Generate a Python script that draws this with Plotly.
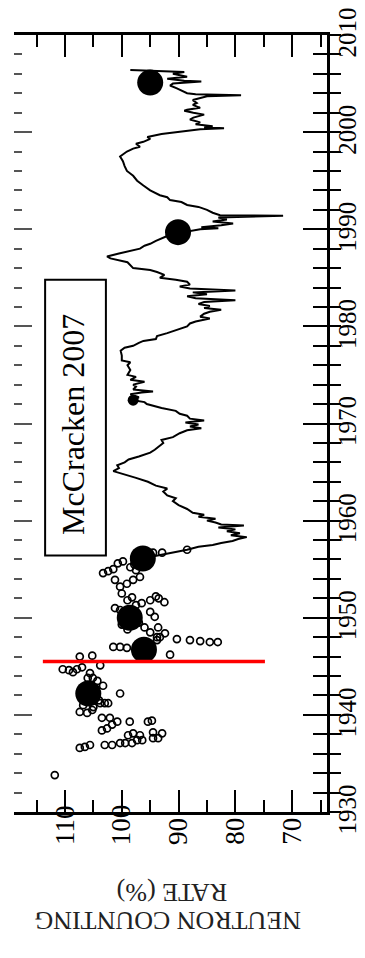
import plotly.graph_objects as go

# ---------------- data ----------------
line_year = [1956.2, 1956.5, 1956.8, 1957.0, 1957.3, 1957.5, 1957.7, 1957.9, 1958.1, 1958.3,
             1958.5, 1958.7, 1958.9, 1959.1, 1959.3, 1959.5, 1959.6, 1959.8, 1960.0, 1960.2,
             1960.4, 1960.6, 1960.8, 1961.2, 1961.6, 1962.0, 1962.3, 1962.6, 1963.0, 1963.3,
             1963.6, 1964.0, 1964.4, 1964.8, 1965.1, 1965.4, 1965.7, 1966.0, 1966.3, 1966.6,
             1967.0, 1967.3, 1967.6, 1968.0, 1968.3, 1968.6, 1969.0, 1969.3, 1969.5, 1969.7,
             1969.9, 1970.1, 1970.3, 1970.5, 1970.8, 1971.0, 1971.3, 1971.6, 1972.0, 1972.2,
             1972.4, 1972.7, 1973.0, 1973.2, 1973.3, 1973.5, 1973.8, 1974.0, 1974.3, 1974.5,
             1974.8, 1975.0, 1975.5, 1976.0, 1976.3, 1976.5, 1977.0, 1977.5, 1977.8, 1978.0,
             1978.3, 1978.5, 1978.7, 1979.0, 1979.3, 1979.5, 1979.8, 1980.0, 1980.3, 1980.5,
             1980.8, 1981.0, 1981.3, 1981.5, 1981.7, 1981.9, 1982.1, 1982.3, 1982.5, 1982.7,
             1982.9, 1983.1, 1983.3, 1983.5, 1983.7, 1983.9, 1984.1, 1984.3, 1984.6, 1984.8,
             1985.0, 1985.3, 1985.6, 1985.8, 1986.0, 1986.3, 1986.6, 1987.0, 1987.2, 1987.5,
             1987.8, 1988.0, 1988.3, 1988.5, 1988.8, 1989.0, 1989.3, 1989.5, 1989.8, 1990.0,
             1990.1, 1990.2, 1990.4, 1990.6, 1990.8, 1991.0, 1991.2, 1991.4, 1991.45, 1991.7,
             1992.0, 1992.3, 1992.5, 1992.8, 1993.0, 1993.3, 1993.5, 1994.0, 1994.5, 1995.0,
             1995.5, 1996.0, 1996.5, 1997.0, 1997.5, 1998.0, 1998.3, 1998.5, 1998.8, 1999.0,
             1999.3, 1999.5, 1999.8, 2000.0, 2000.2, 2000.3, 2000.4, 2000.5, 2000.6, 2000.8,
             2001.0, 2001.3, 2001.5, 2001.8, 2002.0, 2002.2, 2002.3, 2002.5, 2002.8, 2003.0,
             2003.3, 2003.5, 2003.7, 2003.8, 2003.9, 2004.0, 2004.3, 2004.5, 2004.8, 2005.0,
             2005.2, 2005.3, 2005.5, 2005.7, 2006.0, 2006.2, 2006.4]
line_rate = [95.5, 93.0, 90.0, 88.5, 86.5, 84.0, 82.5, 80.5, 79.5, 78.0,
             80.8, 79.2, 81.5, 80.0, 83.0, 78.5, 82.5, 83.5, 85.0, 83.5,
             86.5, 85.5, 87.5, 88.5, 90.0, 91.0, 90.5, 92.0, 92.7, 92.0,
             94.0, 95.4, 97.5, 100.0, 101.5, 100.5, 100.8, 99.5, 98.8, 97.0,
             95.0, 94.2, 93.5, 92.7, 93.0, 91.0, 89.8, 88.5, 86.0, 88.0,
             86.5, 88.8, 85.5, 88.0, 88.5, 89.8, 90.5, 93.0, 95.6, 96.0,
             98.0, 97.0, 98.5, 96.5, 94.5, 98.0, 97.5, 98.0, 96.0, 98.5,
             97.5, 99.0, 98.5, 99.0, 98.5, 100.0, 100.0, 100.2, 99.5, 98.0,
             97.0, 96.2, 94.0, 93.8, 92.0, 91.0, 89.5, 88.5, 88.0, 87.0,
             84.5, 86.2, 85.5, 84.5, 82.5, 85.5, 84.5, 86.5, 85.5, 80.0,
             87.0, 88.5, 85.0, 87.5, 80.0, 88.0, 89.8, 88.0, 88.5, 90.5,
             93.3, 92.5, 93.8, 95.0, 98.0, 98.5, 99.0, 102.0, 102.6, 100.5,
             98.5, 96.8, 96.0, 95.0, 94.0, 93.3, 92.0, 91.0, 88.0, 86.2,
             83.0, 86.0, 82.5, 80.4, 84.0, 81.5, 83.0, 71.6, 82.7, 84.0,
             85.0, 86.5, 88.5, 89.5, 91.5, 92.0, 93.3, 95.0, 96.2, 97.3,
             98.0, 99.1, 99.5, 99.8, 100.3, 99.1, 98.0, 96.8, 97.5, 96.2,
             95.0, 95.5, 93.0, 89.8, 87.5, 86.2, 82.0, 85.5, 84.0, 87.0,
             86.2, 88.0, 87.4, 85.5, 87.4, 89.0, 88.5, 86.2, 87.5, 86.8,
             87.5, 86.2, 85.0, 79.0, 87.0, 88.5, 89.5, 90.3, 91.5, 91.0,
             86.0, 89.0, 92.0, 88.5, 91.0, 89.0, 98.5]

circle_year = [1933.8, 1936.6, 1936.7, 1936.9, 1936.9, 1936.9, 1937.1, 1937.1, 1937.1,
               1937.4, 1937.4, 1937.6, 1937.6, 1938.2, 1938.1, 1937.9, 1938.1, 1937.9,
               1939.3, 1939.3, 1939.4, 1938.4, 1938.6, 1939.0, 1939.3, 1939.7, 1939.7,
               1940.3, 1940.2, 1940.5, 1941.2, 1941.2, 1941.2, 1942.2,
               1943.5, 1943.0, 1941.0, 1940.8, 1941.5,
               1944.7, 1944.6, 1944.4, 1944.7, 1944.9, 1943.8, 1943.8, 1944.3, 1945.1,
               1946.0, 1946.1,
               1947.0, 1947.0, 1946.9, 1947.7, 1948.0, 1948.4,
               1947.8, 1947.7, 1947.6, 1947.5, 1947.5, 1946.2, 1948.5, 1949.0,
               1951.0, 1950.8, 1954.6, 1954.8, 1955.0, 1955.6, 1955.8,
               1953.5, 1953.9, 1954.2, 1953.9, 1953.2, 1952.5, 1951.8, 1952.1,
               1950.6, 1950.1, 1949.0, 1948.0, 1956.7, 1956.7,
               1951.5, 1951.8, 1952.2, 1951.6, 1952.0, 1951.3,
               1949.5, 1950.5, 1948.8, 1949.3, 1955.2, 1954.9, 1955.5, 1957.0]
circle_rate = [111.8, 107.4, 106.5, 105.6, 103.0, 101.7, 100.3, 99.4, 98.2,
               97.3, 96.4, 94.5, 93.6, 94.5, 92.9, 98.9, 98.0, 96.8,
               98.6, 95.4, 94.7, 103.5, 102.6, 101.7, 100.8, 102.1, 103.5,
               107.4, 106.1, 105.2, 103.8, 103.0, 102.4, 100.3,
               104.3, 103.3, 106.8, 105.0, 104.0,
               110.4, 109.3, 108.6, 107.9, 107.0, 106.0, 105.1, 105.6, 103.8,
               107.4, 105.2,
               101.5, 100.3, 99.1, 93.8, 93.3, 92.4,
               90.3, 88.0, 86.2, 84.5, 83.1, 91.5, 95.0, 96.0,
               101.2, 100.3, 103.3, 102.4, 101.5, 100.7, 99.8,
               99.1, 98.0, 96.8, 101.2, 100.3, 100.0, 99.0, 98.2,
               95.0, 94.2, 93.6, 93.8, 94.5, 92.9,
               96.5, 95.0, 94.0, 92.5, 93.5, 97.5,
               97.0, 97.5, 99.0, 100.0, 98.5, 97.5, 97.8, 88.5]

dot_year = [2005.1, 1989.7, 1956.1, 1950.0, 1946.7, 1942.2]
dot_rate = [95.0, 90.1, 96.3, 98.6, 96.1, 105.9]

small_dot_year = [1972.4]
small_dot_rate = [98.0]

red_year = [1945.5, 1945.5]
red_rate = [113.9, 74.8]

rate_ticks = [110, 100, 90, 80, 70]
year_ticks = [1930, 1940, 1950, 1960, 1970, 1980, 1990, 2000, 2010]

label_text = "McCracken 2007"
title_line1 = "NEUTRON COUNTING"
title_line2 = "RATE (%)"

box_rate = [113.5, 102.8]
box_year = [1956.4, 1984.8]
label_pos = (108.5, 1969.9)

X_RANGE = [118.98, 63.87]
Y_RANGE = [1930, 2010]
SERIF = "Liberation Serif, Times New Roman, serif"

fig = go.Figure()

fig.add_trace(go.Scatter(x=line_rate, y=line_year, mode="lines",
                         line=dict(color="black", width=2), showlegend=False,
                         hoverinfo="skip"))
fig.add_trace(go.Scatter(x=circle_rate, y=circle_year, mode="markers",
                         marker=dict(symbol="circle-open", size=7, color="black",
                                     line=dict(width=1.7, color="black")),
                         showlegend=False, hoverinfo="skip"))
fig.add_trace(go.Scatter(x=dot_rate, y=dot_year, mode="markers",
                         marker=dict(symbol="circle", size=26, color="black"),
                         showlegend=False, hoverinfo="skip"))
fig.add_trace(go.Scatter(x=small_dot_rate, y=small_dot_year, mode="markers",
                         marker=dict(symbol="circle", size=11, color="black"),
                         showlegend=False, hoverinfo="skip"))
fig.add_trace(go.Scatter(x=red_rate, y=red_year, mode="lines",
                         line=dict(color="#ff0000", width=3.5), showlegend=False,
                         hoverinfo="skip"))
# empty traces to activate the overlay axes
fig.add_trace(go.Scatter(x=[], y=[], yaxis="y2", showlegend=False))
fig.add_trace(go.Scatter(x=[], y=[], yaxis="y3", showlegend=False))

fig.add_shape(type="rect", xref="x", yref="y",
              x0=box_rate[0], x1=box_rate[1], y0=box_year[0], y1=box_year[1],
              line=dict(color="black", width=2), fillcolor="rgba(0,0,0,0)")
fig.add_annotation(x=label_pos[0], y=label_pos[1], xref="x", yref="y",
                   xanchor="center", yanchor="middle",
                   text=label_text, textangle=-90, showarrow=False,
                   font=dict(family=SERIF, size=32, color="black"))

# rate tick labels, rotated like the rest of the (turned) figure
for v in rate_ticks:
    fig.add_annotation(x=v, y=-0.045, xref="x", yref="paper", text=str(v),
                       textangle=-90, showarrow=False,
                       font=dict(family=SERIF, size=27, color="black"))

# year tick labels on the right
for v in year_ticks:
    fig.add_annotation(x=1.115, y=v, xref="paper", yref="y", text=str(v),
                       textangle=-90, showarrow=False, yshift=3,
                       font=dict(family=SERIF, size=25, color="black"))

fig.add_annotation(x=0.492, y=-0.161, xref="paper", yref="paper", text=title_line1,
                   textangle=180, showarrow=False,
                   font=dict(family=SERIF, size=26, color="#222"))
fig.add_annotation(x=0.505, y=-0.125, xref="paper", yref="paper", text=title_line2,
                   textangle=180, showarrow=False,
                   font=dict(family=SERIF, size=26, color="#222"))

# page body has an 8px margin: figure is 357x950 placed at (8, 8)
fig.update_layout(
    template="none",
    width=357, height=950,
    margin=dict(l=6, r=38, t=27, b=146, autoexpand=False),
    paper_bgcolor="white", plot_bgcolor="white",
    xaxis=dict(range=X_RANGE, showgrid=False, zeroline=False, automargin=False,
               showline=True, linecolor="black", linewidth=2.5, mirror="ticks",
               ticks="inside", ticklen=22, tickwidth=2, tickcolor="black",
               tickvals=rate_ticks, showticklabels=False,
               minor=dict(dtick=5, tick0=0, ticks="inside", ticklen=12,
                          tickwidth=2, tickcolor="black", showgrid=False)),
    yaxis=dict(range=Y_RANGE, side="right", showgrid=False, zeroline=False,
               automargin=False, showticklabels=False,
               showline=True, linecolor="black", linewidth=2.5,
               ticks="outside", ticklen=11, tickwidth=2, tickcolor="black",
               tickvals=year_ticks,
               minor=dict(dtick=2, tick0=1930, ticks="outside", ticklen=11,
                          tickwidth=2, tickcolor="black", showgrid=False)),
    yaxis2=dict(range=Y_RANGE, overlaying="y", side="right", showgrid=False,
                zeroline=False, showline=False, showticklabels=False, automargin=False,
                ticks="inside", ticklen=24, tickwidth=2, tickcolor="black",
                tickvals=year_ticks,
                minor=dict(dtick=2, tick0=1930, ticks="inside", ticklen=14,
                           tickwidth=2, tickcolor="black", showgrid=False)),
    yaxis3=dict(range=Y_RANGE, overlaying="y", side="left", showgrid=False,
                zeroline=False, showline=False, showticklabels=False, automargin=False,
                ticks="inside", ticklen=18, tickwidth=2, tickcolor="#555",
                tickvals=year_ticks,
                minor=dict(dtick=2, tick0=1930, ticks="inside", ticklen=8,
                           tickwidth=2, tickcolor="#555", showgrid=False)),
)

fig.write_html("out.html")
